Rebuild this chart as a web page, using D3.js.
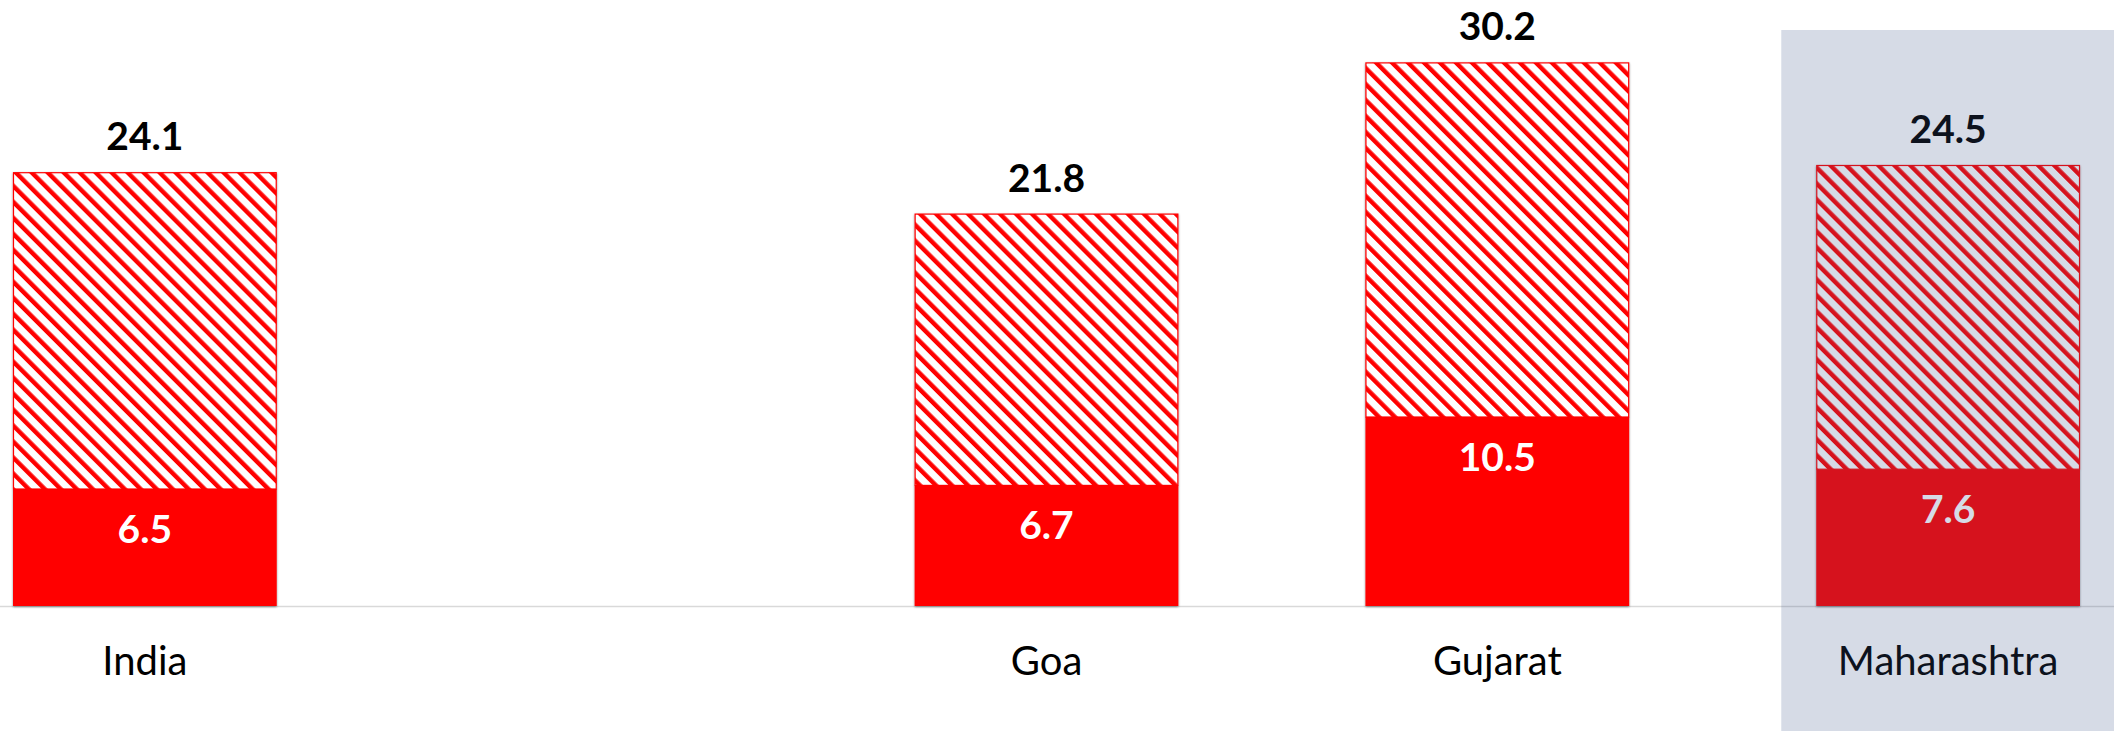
<!DOCTYPE html>
<html>
<head>
<meta charset="utf-8">
<script src="https://cdn.jsdelivr.net/npm/d3@7"></script>
<style>
  html, body { margin: 0; padding: 0; background: #fff; }
  svg { display: block; }
</style>
</head>
<body>
<script>
// Stacked bars: solid lower segment plus hatched remainder up to the total
const categories = ["India", "", "Goa", "Gujarat", "Maharashtra"];
const totals = [24.1, null, 21.8, 30.2, 24.5];
const lowerValues = [6.5, null, 6.7, 10.5, 7.6];
const highlighted = "Maharashtra";

const W = 2114, H = 731;
const baseY = 606;

const svg = d3.select("body").append("svg")
  .attr("width", W).attr("height", H);

const defs = svg.append("defs");

// diagonal red hatch
const pat = defs.append("pattern")
  .attr("id", "hatch")
  .attr("patternUnits", "userSpaceOnUse")
  .attr("width", 11.3).attr("height", 11.3)
  .attr("patternTransform", "rotate(-45)");
pat.append("rect").attr("width", 11.3).attr("height", 11.3).attr("fill", "#fff");
pat.append("rect").attr("x", 0).attr("width", 4.4).attr("height", 11.3).attr("fill", "#ff0000");

const shadow = defs.append("filter").attr("id", "shadow")
  .attr("x", "-5%").attr("y", "-5%").attr("width", "110%").attr("height", "110%");
shadow.append("feDropShadow")
  .attr("dx", 0).attr("dy", 1).attr("stdDeviation", 1.3)
  .attr("flood-color", "#000").attr("flood-opacity", 0.45);

const x = d3.scaleBand()
  .domain(categories)
  .range([13, 2080])
  .paddingInner(0.415)
  .paddingOuter(0);

const y = d3.scaleLinear().domain([0, 33]).range([baseY, 12]);

const rows = categories.map((c, i) => ({ cat: c, total: totals[i], lower: lowerValues[i] }))
  .filter(d => d.total != null);

// baseline
svg.append("line")
  .attr("x1", 0).attr("x2", W)
  .attr("y1", baseY + 0.5).attr("y2", baseY + 0.5)
  .attr("stroke", "#d9d9d9").attr("stroke-width", 1.5);

const g = svg.append("g").selectAll("g").data(rows).join("g");

g.append("g").attr("filter", "url(#shadow)").each(function (d) {
  const s = d3.select(this);
  s.append("rect")
    .attr("x", x(d.cat)).attr("width", x.bandwidth())
    .attr("y", y(d.lower)).attr("height", y(0) - y(d.lower))
    .attr("fill", "#ff0000");
  s.append("rect")
    .attr("x", x(d.cat) + 0.5).attr("width", x.bandwidth() - 1)
    .attr("y", y(d.total) + 0.5).attr("height", y(d.lower) - y(d.total) - 0.5)
    .attr("fill", "url(#hatch)")
    .attr("stroke", "#ff0000").attr("stroke-width", 1.2);
});

const font = "Lato, 'Open Sans', sans-serif";

// totals above bars
g.append("text")
  .attr("x", d => x(d.cat) + x.bandwidth() / 2)
  .attr("y", d => y(d.total) - 22)
  .attr("text-anchor", "middle")
  .attr("font-family", font).attr("font-weight", 700).attr("font-size", 39)
  .attr("fill", "#000")
  .text(d => d3.format(".1f")(d.total));

// lower segment values
g.append("text")
  .attr("x", d => x(d.cat) + x.bandwidth() / 2)
  .attr("y", d => y(d.lower) + 54)
  .attr("text-anchor", "middle")
  .attr("font-family", font).attr("font-weight", 700).attr("font-size", 39)
  .attr("fill", "#fff")
  .text(d => d3.format(".1f")(d.lower));

// category labels
g.append("text")
  .attr("x", d => x(d.cat) + x.bandwidth() / 2)
  .attr("y", baseY + 69)
  .attr("text-anchor", "middle")
  .attr("font-family", font).attr("font-weight", 400).attr("font-size", 40)
  .attr("fill", "#000")
  .text(d => d.cat);

// translucent highlight band over the selected category
svg.append("rect")
  .attr("x", x(highlighted) - 35)
  .attr("y", 30)
  .attr("width", W - (x(highlighted) - 35))
  .attr("height", H - 30)
  .attr("fill", "rgb(60,86,136)")
  .attr("opacity", 0.21);
</script>
</body>
</html>
